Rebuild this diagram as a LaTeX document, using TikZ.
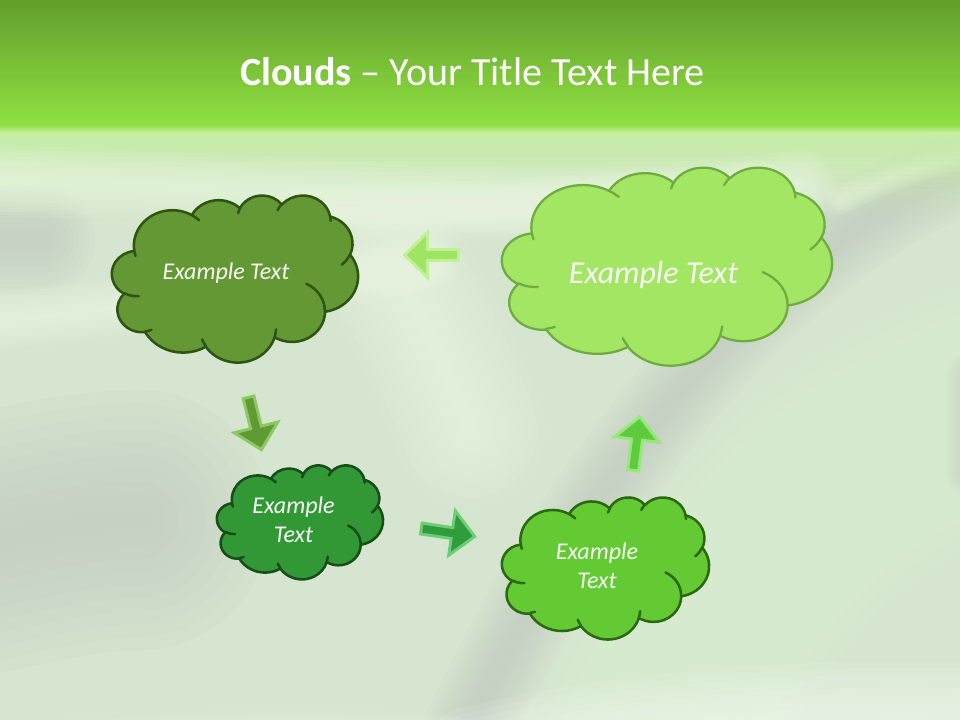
\documentclass[tikz,border=0pt]{standalone}
\usepackage{fontspec}
\setmainfont{Carlito}
\definecolor{topA}{RGB}{100,158,44}
\definecolor{topB}{RGB}{142,224,66}
\definecolor{pale}{RGB}{196,238,160}
\definecolor{bgbase}{RGB}{214,229,207}
\definecolor{bglight}{RGB}{240,252,232}
\definecolor{bgpale}{RGB}{222,245,208}
\definecolor{bggray}{RGB}{192,200,192}
\definecolor{bgwhite}{RGB}{250,255,247}
\definecolor{cAfill}{RGB}{100,152,52}
\definecolor{cAline}{RGB}{45,85,18}
\definecolor{cBfill}{RGB}{50,152,54}
\definecolor{cBline}{RGB}{24,76,24}
\definecolor{cCfill}{RGB}{100,202,52}
\definecolor{cCline}{RGB}{42,104,18}
\definecolor{cDfill}{RGB}{162,230,100}
\definecolor{cDline}{RGB}{110,172,64}
\definecolor{aAfill}{RGB}{160,228,100}
\definecolor{aAline}{RGB}{190,242,150}
\definecolor{aBfill}{RGB}{96,154,50}
\definecolor{aBline}{RGB}{140,200,100}
\definecolor{aCfill}{RGB}{48,156,60}
\definecolor{aCline}{RGB}{110,206,120}
\definecolor{aDfill}{RGB}{94,202,62}
\definecolor{aDline}{RGB}{150,232,120}
\definecolor{txt}{RGB}{248,255,244}
% cloud arc in OOXML style (visual angles -> parametric)
\newcommand\cldarc[4]{%
  \pgfextra{%
    \pgfmathsetmacro\cldA{atan2((#1)*sin(#3),(#2)*cos(#3))}%
    \pgfmathsetmacro\cldB{atan2((#1)*sin((#3)+(#4)),(#2)*cos((#3)+(#4)))}%
    \pgfmathsetmacro\cldD{mod(\cldB-\cldA+720,360)}%
    \global\let\cldA\cldA \global\let\cldD\cldD}%
  arc[x radius=#1*0.75pt, y radius=#2*0.75pt, start angle=\cldA, delta angle=\cldD]}
\newcommand\cldouter{(3.900,14.370)
  \cldarc{6.753}{9.190}{-190.48748}{123.78053}
  \cldarc{5.333}{7.267}{-144.10238}{89.94523}
  \cldarc{4.365}{5.945}{-145.80792}{99.72302}
  \cldarc{4.857}{6.595}{-130.98607}{117.24173}
  \cldarc{5.333}{7.273}{-78.70888}{109.02692}
  \cldarc{6.775}{9.220}{-46.26725}{130.269}
  \cldarc{5.785}{7.867}{0.62502}{114.03333}
  \cldarc{6.752}{9.215}{22.4516}{115.17255}
  \cldarc{7.720}{10.543}{66.24263}{75.71102}
  \cldarc{4.360}{5.918}{-274.94208}{146.73557}
  \cldarc{4.345}{5.945}{-246.8285}{152.51885}
  -- cycle}
\newcommand\cldinner{
  (4.693,26.177) \cldarc{4.345}{5.945}{86.742}{26.4295}
  (6.928,34.899) \cldarc{4.360}{5.918}{73.61047}{11.44747}
  (16.478,39.090) \cldarc{6.752}{9.215}{137.62415}{14.0811}
  (28.827,34.751) \cldarc{6.752}{9.215}{6.45327}{15.99835}
  (34.129,22.954) \cldarc{5.785}{7.867}{-70.29235}{70.91737}
  (41.798,15.354) \cldarc{5.333}{7.273}{30.31803}{27.7515}
  (38.324,5.426) \cldarc{4.857}{6.595}{-13.74433}{14.85115}
  (29.078,3.952) \cldarc{4.857}{6.595}{-149.18145}{18.19588}
  (22.141,4.720) \cldarc{4.365}{5.945}{-163.49427}{17.84168}
  (14.000,5.192) \cldarc{6.753}{9.190}{-66.70695}{12.31935}
  (4.127,15.789) \cldarc{6.753}{9.190}{157.65435}{11.85817}}
\newcommand\drawcloud[7]{%
  \pgfmathsetmacro\cldsx{#3/43.2}\pgfmathsetmacro\cldsy{#4/43.2}%
  \begin{scope}[shift={(#1,#2)}, xscale=\cldsx, yscale=\cldsy]
    \filldraw[fill=#5, draw=#6, line width=#7, line join=round] \cldouter;
    \draw[draw=#6, line width=#7, line cap=round] \cldinner;
  \end{scope}}
\newcommand\blkarrow[6]{%
  \begin{scope}[shift={(#1,#2)}, rotate=#3]
    \coordinate (#6) at (0,0);
    \filldraw[fill=#4, draw=#5, line width=2.2pt, line join=miter]
      (-27,-5.5) -- (4,-5.5) -- (4,-22.5) -- (27,0) -- (4,22.5) -- (4,5.5) -- (-27,5.5) -- cycle;
  \end{scope}}
\newcommand\soft[3]{%
  \foreach \f in {1,0.9,0.8,0.7,0.6,0.5,0.4,0.3,0.2,0.1}{\draw[#1, line width=\f*#2*0.75pt, opacity=0.085, line cap=round] #3;}}
\begin{document}
\begin{tikzpicture}[x=0.75pt, y=0.75pt, yscale=-1]
\useasboundingbox (0,0) rectangle (960,720);
% ---- background ----
\fill[bgbase] (0,0) rectangle (960,720);
\begin{scope}
\clip (0,0) rectangle (960,720);
\soft{bggray}{110}{(-90,240) -- (40,240)}
\soft{bggray}{260}{(-90,560) .. controls (0,540) and (80,520) .. (140,520)}
\soft{bglight}{60}{(-80,328) .. controls (100,315) and (250,285) .. (430,262)}
\soft{bglight}{150}{(400,280) .. controls (430,330) and (450,380) .. (470,430)}
\soft{bgpale}{240}{(1040,390) .. controls (850,440) and (720,560) .. (640,780)}
\soft{bgpale}{240}{(1040,390) .. controls (850,440) and (720,560) .. (640,780)}
\soft{bggray}{90}{(1040,140) .. controls (820,200) and (610,410) .. (445,780)}
\soft{bglight}{30}{(1030,140) .. controls (950,155) and (890,175) .. (840,200)}
\soft{bggray}{60}{(975,380) -- (975,470)}
\soft{bgwhite}{130}{(480,770) .. controls (650,730) and (850,720) .. (1040,730)}
\soft{bglight}{60}{(-60,760) .. controls (150,740) and (300,735) .. (450,745)}
% fade below the top band
\foreach \i in {0,...,39}{
  \pgfmathsetmacro\o{0.9*(1-\i/39)^1.5}
  \fill[pale, opacity=\o] (0,128+\i*2.5) rectangle (960,128+\i*2.5+2.6);}
\soft{bglight}{70}{(-60,178) .. controls (300,190) and (600,215) .. (800,185)}
\soft{bglight}{60}{(300,215) .. controls (450,215) and (600,205) .. (760,190)}
\end{scope}
% ---- top band ----
\foreach \i in {0,...,41}{
  \pgfmathtruncatemacro\p{round(\i*100/41)}
  \fill[topB!\p!topA] (0,\i*3) rectangle (960,\i*3+3.6);}
\foreach \i in {0,...,3}{
  \pgfmathtruncatemacro\p{round((\i+1)*100/4)}
  \fill[pale!\p!topB] (0,126+\i*2) rectangle (960,126+\i*2+2.4);}
% ---- title ----
\node[anchor=base, text=white, font=\fontsize{30}{36}\selectfont] (title) at (472.5,86)
  {\textbf{Clouds} – Your Title Text Here};
% ---- clouds ----
\drawcloud{112}{195}{246}{167}{cAfill}{cAline}{1.9pt}
\drawcloud{217}{465}{166}{114}{cBfill}{cBline}{1.9pt}
\drawcloud{502}{497}{207}{142}{cCfill}{cCline}{1.9pt}
\drawcloud{502}{167}{330}{198}{cDfill}{cDline}{1.7pt}
\node[anchor=base, text=txt, font=\fontsize{18}{21.6}\selectfont\itshape] (tA) at (226,280) {Example Text};
\node[anchor=base, text=txt, font=\fontsize{24}{28.8}\selectfont\itshape] (tD) at (653.5,284) {Example Text};
\node[align=center, inner sep=0pt, text=txt, font=\fontsize{18}{21.6}\selectfont\itshape] (tB) at (293.5,520) {Example\\Text};
\node[align=center, inner sep=0pt, text=txt, font=\fontsize{18}{21.6}\selectfont\itshape] (tC) at (597,566) {Example\\Text};
% ---- arrows ----
\blkarrow{431.5}{255}{180}{aAfill}{aAline}{arrA}
\blkarrow{255}{423.5}{76.2}{aBfill}{aBline}{arrB}
\blkarrow{448}{532.5}{8.5}{aCfill}{aCline}{arrC}
\blkarrow{636.5}{443.5}{-83}{aDfill}{aDline}{arrD}
\end{tikzpicture}
\end{document}
